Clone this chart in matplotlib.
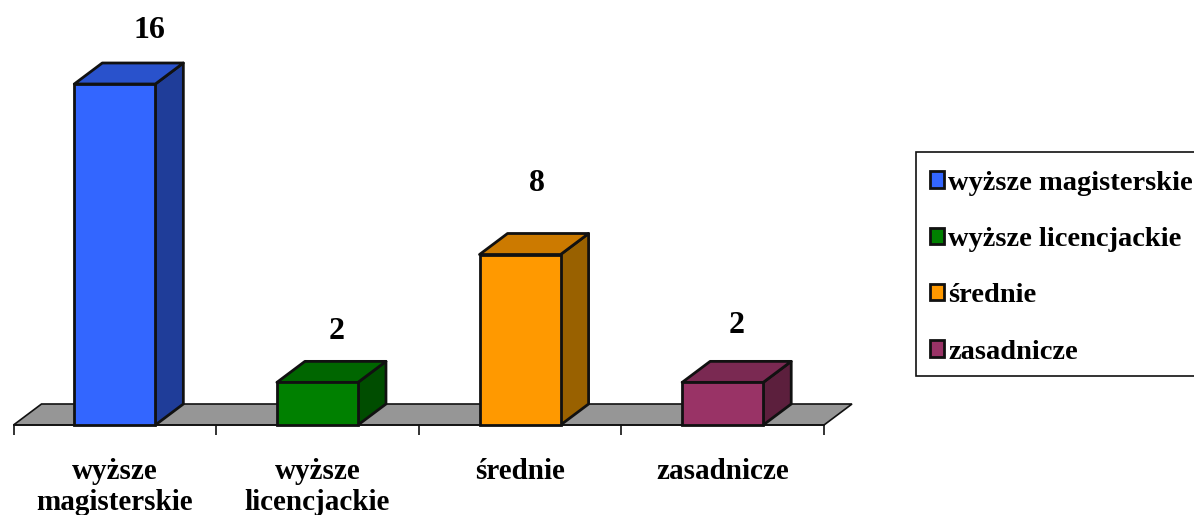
import matplotlib
matplotlib.use("Agg")
import matplotlib.pyplot as plt
from matplotlib.patches import Polygon, Rectangle, Patch

W, H = 1194, 515

categories = ["wyższe magisterskie", "wyższe licencjackie", "średnie", "zasadnicze"]
tick_labels = ["wyższe\nmagisterskie", "wyższe\nlicencjackie", "średnie", "zasadnicze"]
values = [16, 2, 8, 2]
front_colors = ["#3366FF", "#008000", "#FF9900", "#993366"]
top_colors = ["#2952CC", "#006600", "#CC7A00", "#7A2952"]
side_colors = ["#1F3D99", "#004D00", "#996100", "#5C1F3D"]

FLOOR = "#969696"
EDGE = "#111111"
BAR_W = 0.4
# label offsets from the bar top, px (not regular in the original)
LABEL_OFF = [(35, 54), (19, 51), (17, 71), (14, 57)]

plt.rcParams["font.family"] = ["Liberation Serif", "DejaVu Serif"]
plt.rcParams["font.weight"] = "bold"

fig = plt.figure(figsize=(W / 100, H / 100), dpi=100, facecolor="white")
# plot area: x -0.5..3.5 on 13..824 px, y 0..16 on 425..84 px
ax = fig.add_axes([13.5 / W, 1 - 425 / H, 810.5 / W, 341 / H])
ax.set_xlim(-0.5, 3.5)
ax.set_ylim(0, 16)
ax.patch.set_visible(False)

px_x = 4 / 810.5   # data units per pixel
px_y = 16 / 341
dx = 28 * px_x
dy = 21 * px_y
lw = 2.0

# floor
ax.add_patch(Polygon([(-0.5, 0), (3.5, 0), (3.5 + dx, dy), (-0.5 + dx, dy)], closed=True,
                     fc=FLOOR, ec=EDGE, lw=1.2, clip_on=False, zorder=1))

for i, v in enumerate(values):
    x0 = i - BAR_W / 2
    x1 = i + BAR_W / 2
    ax.add_patch(Polygon([(x1, 0), (x1 + dx, dy), (x1 + dx, v + dy), (x1, v)], closed=True,
                         fc=side_colors[i], ec=EDGE, lw=lw, clip_on=False, zorder=2, joinstyle="round"))
    ax.add_patch(Polygon([(x0, v), (x1, v), (x1 + dx, v + dy), (x0 + dx, v + dy)], closed=True,
                         fc=top_colors[i], ec=EDGE, lw=lw, clip_on=False, zorder=2, joinstyle="round"))
    ax.add_patch(Rectangle((x0, 0), BAR_W, v, fc=front_colors[i], ec=EDGE, lw=lw,
                           clip_on=False, zorder=3))
    ox, oy = LABEL_OFF[i]
    ax.annotate(str(v), (i, v), xytext=(ox * 0.72, oy * 0.72), textcoords="offset points",
                ha="center", va="center", fontsize=23, fontweight="bold", color="black",
                annotation_clip=False)

# axis
for s in ["top", "left", "right"]:
    ax.spines[s].set_visible(False)
ax.spines["bottom"].set_color(EDGE)
ax.spines["bottom"].set_linewidth(1.2)
ax.set_yticks([])
ax.set_xticks([-0.5, 0.5, 1.5, 2.5, 3.5])
ax.set_xticklabels([])
ax.tick_params(axis="x", length=7, width=1.2, color=EDGE)
ax.set_xticks(range(4), minor=True)
ax.set_xticklabels(tick_labels, minor=True, fontsize=21, fontweight="bold", linespacing=1.2,
                   va="top")
ax.tick_params(axis="x", which="minor", length=0, pad=23.5)

# legend box runs off the right edge, so it is drawn apart from the legend
fig.add_artist(Rectangle((916 / W, 1 - 376 / H), 290 / W, 224 / H, transform=fig.transFigure,
                         fc="white", ec=EDGE, lw=1.2))
handles = [Patch(fc=c, ec=EDGE, lw=2.0) for c in front_colors]
leg = fig.legend(handles, categories, loc="upper left", bbox_to_anchor=(916 / W, 1 - 157 / H),
                 bbox_transform=fig.transFigure, prop={"size": 20.5, "weight": "bold"},
                 frameon=False,
                 handlelength=0.5, handleheight=0.5, handletextpad=0.16, labelspacing=1.1,
                 borderpad=0.48, borderaxespad=0)

fig.savefig("out.png", dpi=100)
